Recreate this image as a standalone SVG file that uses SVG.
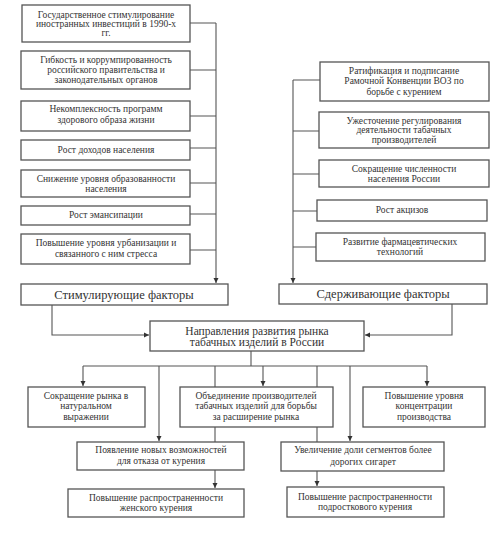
<svg xmlns="http://www.w3.org/2000/svg" width="501" height="544" viewBox="0 0 501 544" font-family="Liberation Serif, serif">
<style>
.b{fill:#fff;stroke:#555;stroke-width:1.3}
.t{font-family:Liberation Serif, serif;font-size:9.5px;fill:#333;text-anchor:middle}
.L{font-size:12.5px}
.M{font-size:11.5px}
.c{fill:none;stroke:#555;stroke-width:1.1}
</style>
<defs>
<marker id="a" markerWidth="6" markerHeight="6" refX="5" refY="3" orient="auto" markerUnits="userSpaceOnUse">
<path d="M0,0.5 L5,3 L0,5.5 Z" fill="#333"/>
</marker>
</defs>
<rect width="501" height="544" fill="#fff"/>
<g id="connectors">
<path class="c" d="M190,23 H216 M190,70 H216 M190,116 H216 M190,148 H216 M190,183 H216 M190,214 H216 M190,250 H216"/>
<path class="c" d="M216,23 V283" marker-end="url(#a)"/>
<path class="c" d="M320,80 H293 M319,131 H293 M319,174 H293 M317,211 H293 M316,247 H293"/>
<path class="c" d="M293,80 V283" marker-end="url(#a)"/>
<path class="c" d="M52,305 V335 H149" marker-end="url(#a)"/>
<path class="c" d="M452,304 V335 H365" marker-end="url(#a)"/>
<path class="c" d="M251,351 V366 M83,366 H427 M215,366 V387 M317,366 V387 M215,427 V442 M317,427 V442"/>
<path class="c" d="M83,366 V386" marker-end="url(#a)"/>
<path class="c" d="M159,366 V441" marker-end="url(#a)"/>
<path class="c" d="M263,366 V386" marker-end="url(#a)"/>
<path class="c" d="M350,366 V441" marker-end="url(#a)"/>
<path class="c" d="M427,366 V386" marker-end="url(#a)"/>
<path class="c" d="M215,470 V488" marker-end="url(#a)"/>
<path class="c" d="M317,471 V486" marker-end="url(#a)"/>
</g>
<g id="n1"><rect class="b" x="22" y="5" width="168" height="37"/><text class="t" font-family="Liberation Serif, serif"><tspan x="106" y="18">Государственное стимулирование</tspan><tspan x="106" y="27">иностранных инвестиций  в 1990-х</tspan><tspan x="106" y="36">гг.</tspan></text></g>
<g id="n2"><rect class="b" x="21" y="51" width="169" height="38"/><text class="t"><tspan x="106" y="63">Гибкость и коррумпированность</tspan><tspan x="106" y="73">российского правительства и</tspan><tspan x="106" y="83">законодательных органов</tspan></text></g>
<g id="n3"><rect class="b" x="21" y="101" width="169" height="30"/><text class="t"><tspan x="106" y="112">Некомплексность программ</tspan><tspan x="106" y="123">здорового образа жизни</tspan></text></g>
<g id="n4"><rect class="b" x="21" y="140" width="169" height="20"/><text class="t"><tspan x="106" y="152.5">Рост доходов населения</tspan></text></g>
<g id="n5"><rect class="b" x="21" y="170" width="169" height="27"/><text class="t"><tspan x="106" y="182">Снижение уровня образованности</tspan><tspan x="106" y="192">населения</tspan></text></g>
<g id="n6"><rect class="b" x="21" y="206" width="169" height="19"/><text class="t"><tspan x="106" y="217.5">Рост эмансипации</tspan></text></g>
<g id="n7"><rect class="b" x="21" y="234" width="169" height="30"/><text class="t"><tspan x="106" y="246">Повышение уровня урбанизации и</tspan><tspan x="106" y="257">связанного с ним стресса</tspan></text></g>
<g id="r1"><rect class="b" x="320" y="62" width="169" height="39"/><text class="t"><tspan x="404" y="74">Ратификация и подписание</tspan><tspan x="404" y="84">Рамочной Конвенции ВОЗ по</tspan><tspan x="404" y="95">борьбе с курением</tspan></text></g>
<g id="r2"><rect class="b" x="319" y="112" width="170" height="36"/><text class="t"><tspan x="404" y="124">Ужесточение регулирования</tspan><tspan x="404" y="133">деятельности табачных</tspan><tspan x="404" y="143">производителей</tspan></text></g>
<g id="r3"><rect class="b" x="319" y="160" width="170" height="27"/><text class="t"><tspan x="404" y="172">Сокращение численности</tspan><tspan x="404" y="182">населения России</tspan></text></g>
<g id="r4"><rect class="b" x="317" y="200" width="170" height="21"/><text class="t"><tspan x="402" y="213">Рост акцизов</tspan></text></g>
<g id="r5"><rect class="b" x="316" y="233" width="169" height="28"/><text class="t"><tspan x="400" y="245">Развитие фармацевтических</tspan><tspan x="400" y="255">технологий</tspan></text></g>
<g id="stim"><rect class="b" x="21" y="284" width="207" height="21"/><text class="t L"><tspan x="124" y="298.5">Стимулирующие факторы</tspan></text></g>
<g id="sder"><rect class="b" x="279" y="284" width="208" height="20"/><text class="t L"><tspan x="383" y="298">Сдерживающие факторы</tspan></text></g>
<g id="napr"><rect class="b" x="150" y="321" width="214" height="30"/><text class="t M"><tspan x="257" y="335">Направления развития рынка</tspan><tspan x="257" y="346">табачных изделий в России</tspan></text></g>
<g id="d1"><rect class="b" x="28" y="387" width="117" height="40"/><text class="t"><tspan x="86" y="399">Сокращение рынка в</tspan><tspan x="86" y="409">натуральном</tspan><tspan x="86" y="420">выражении</tspan></text></g>
<g id="d2"><rect class="b" x="180" y="387" width="153" height="40"/><text class="t"><tspan x="256" y="399">Объединение производителей</tspan><tspan x="256" y="409">табачных изделий  для борьбы</tspan><tspan x="256" y="420">за расширение рынка</tspan></text></g>
<g id="d3"><rect class="b" x="363" y="387" width="122" height="40"/><text class="t"><tspan x="424" y="399">Повышение уровня</tspan><tspan x="424" y="409">концентрации</tspan><tspan x="424" y="420">производства</tspan></text></g>
<g id="d4"><rect class="b" x="77" y="442" width="167" height="28"/><text class="t"><tspan x="161" y="453">Появление новых возможностей</tspan><tspan x="161" y="464">для отказа от курения</tspan></text></g>
<g id="d5"><rect class="b" x="281" y="442" width="163" height="29"/><text class="t"><tspan x="363" y="453">Увеличение доли сегментов более</tspan><tspan x="363" y="465">дорогих сигарет</tspan></text></g>
<g id="d6"><rect class="b" x="68" y="489" width="176" height="28"/><text class="t"><tspan x="156" y="501">Повышение распространенности</tspan><tspan x="156" y="511">женского курения</tspan></text></g>
<g id="d7"><rect class="b" x="287" y="487" width="157" height="30"/><text class="t"><tspan x="365" y="500">Повышение распространенности</tspan><tspan x="365" y="510">подросткового курения</tspan></text></g>
</svg>
